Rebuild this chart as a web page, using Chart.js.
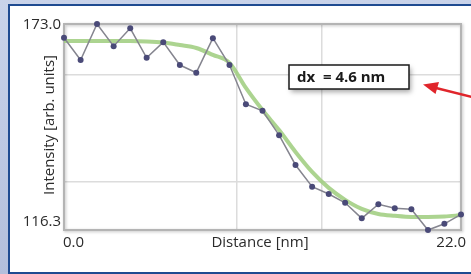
<!DOCTYPE html>
<html>
<head>
<meta charset="utf-8">
<script src="https://cdn.jsdelivr.net/npm/chart.js@4.4.1/dist/chart.umd.min.js"></script>
<style>
  html, body { margin: 0; padding: 0; }
  body {
    width: 471px; height: 274px; overflow: hidden; position: relative;
    background: linear-gradient(to bottom, #c9d3ea 0%, #b3bfdc 100%);
  }
  .panel {
    position: absolute; left: 8px; top: 4px; width: 480px; height: 266px;
    background: #fff;
    border-left: 2px solid #1f4b91; border-top: 2px solid #1f4b91; border-bottom: 2px solid #1f4b91;
  }
  canvas { position: absolute; left: 0; top: 0; }
</style>
</head>
<body>
<div class="panel"></div>
<canvas id="profile" width="471" height="274"></canvas>
<script>
// Line profile across an edge: measured intensity and fitted curve
const distance = [0.0, 0.92, 1.83, 2.75, 3.67, 4.58, 5.5, 6.42, 7.33, 8.25, 9.17, 10.08, 11.0,
                  11.92, 12.83, 13.75, 14.67, 15.58, 16.5, 17.42, 18.33, 19.25, 20.17, 21.08, 22.0];
const measured = [169.2, 163.1, 173.0, 166.9, 171.8, 163.7, 168.0, 161.7, 159.6, 169.1, 161.7, 150.9, 149.1,
                  142.4, 134.2, 128.2, 126.2, 123.8, 119.5, 123.4, 122.3, 122.0, 116.3, 118.0, 120.6];
const fitted = [168.3, 168.3, 168.3, 168.3, 168.3, 168.2, 167.9, 167.2, 166.4, 164.5, 162.3, 155.4, 149.3,
                143.8, 137.8, 132.3, 127.9, 124.6, 122.1, 120.7, 120.2, 119.9, 119.9, 120.0, 120.4];
const xGrid = [0, 9.57, 14.27, 22];
const yGrid = [116.3, 129.5, 159.0, 173.0];
const xTickLabels = ["0.0", "22.0"];
const yTickLabels = ["173.0", "116.3"];
const annotationText = "dx  = 4.6 nm";

const font = "'Open Sans', 'Noto Sans', sans-serif";
const textColor = "#2b2b2b";

const frameAndLabels = {
  id: "frameAndLabels",
  beforeDatasetsDraw(chart) {
    const { ctx, chartArea: a } = chart;
    ctx.save();
    ctx.shadowColor = "rgba(0,0,0,0.25)";
    ctx.shadowBlur = 3;
    ctx.shadowOffsetX = 1;
    ctx.shadowOffsetY = 1;
    ctx.strokeStyle = "#b4b4b4";
    ctx.lineWidth = 2;
    ctx.strokeRect(a.left, a.top, a.right - a.left, a.bottom - a.top);
    ctx.restore();
  },
  afterDraw(chart) {
    const { ctx, chartArea: a, scales } = chart;
    const x = scales.x, y = scales.y;
    ctx.save();
    ctx.fillStyle = textColor;
    ctx.font = "15px " + font;
    ctx.textBaseline = "middle";

    // y tick labels (top and bottom of the range)
    ctx.textAlign = "right";
    ctx.fillText(yTickLabels[0], a.left - 3, y.getPixelForValue(parseFloat(yTickLabels[0])) + 1);
    ctx.fillText(yTickLabels[1], a.left - 3, y.getPixelForValue(parseFloat(yTickLabels[1])) - 8);

    // x tick labels and title on one line
    const ly = a.bottom + 13;
    ctx.textAlign = "left";
    ctx.fillText(xTickLabels[0], x.getPixelForValue(parseFloat(xTickLabels[0])) - 1, ly);
    ctx.textAlign = "right";
    ctx.fillText(xTickLabels[1], x.getPixelForValue(parseFloat(xTickLabels[1])) + 5, ly);
    ctx.textAlign = "center";
    ctx.fillText("Distance [nm]", 260, ly);

    // y title
    ctx.save();
    ctx.translate(50, (a.top + a.bottom) / 2 - 2);
    ctx.rotate(-Math.PI / 2);
    ctx.fillText("Intensity [arb. units]", 0, 0);
    ctx.restore();

    // annotation box
    ctx.save();
    ctx.shadowColor = "rgba(0,0,0,0.35)";
    ctx.shadowBlur = 5;
    ctx.shadowOffsetX = 2;
    ctx.shadowOffsetY = 3;
    ctx.fillStyle = "#fff";
    ctx.fillRect(289, 65, 120, 24);
    ctx.restore();
    ctx.strokeStyle = "#1a1a1a";
    ctx.lineWidth = 1.5;
    ctx.strokeRect(289, 65, 120, 24);
    ctx.fillStyle = "#1a1a1a";
    ctx.font = "bold 15px " + font;
    ctx.textAlign = "left";
    ctx.fillText(annotationText, 297, 78);

    // red arrow
    ctx.strokeStyle = "#e0252b";
    ctx.fillStyle = "#e0252b";
    ctx.lineWidth = 2.5;
    ctx.beginPath();
    ctx.moveTo(472, 97);
    ctx.lineTo(436, 88);
    ctx.stroke();
    ctx.beginPath();
    ctx.moveTo(423, 84.5);
    ctx.lineTo(439, 82);
    ctx.lineTo(435.5, 94);
    ctx.closePath();
    ctx.fill();
    ctx.restore();
  }
};

new Chart(document.getElementById("profile"), {
  type: "line",
  data: {
    datasets: [
      {
        label: "fit",
        data: distance.map((d, i) => ({ x: d, y: fitted[i] })),
        borderColor: "rgba(158,204,124,0.85)",
        borderWidth: 4,
        pointRadius: 0,
        tension: 0.4,
        cubicInterpolationMode: "monotone",
        order: 2
      },
      {
        label: "measured",
        data: distance.map((d, i) => ({ x: d, y: measured[i] })),
        borderColor: "#85858f",
        borderWidth: 1.5,
        pointRadius: 3,
        pointBackgroundColor: "#4a4a78",
        pointBorderWidth: 0,
        tension: 0,
        order: 1
      }
    ]
  },
  options: {
    responsive: false,
    animation: false,
    clip: false,
    layout: { padding: { left: 64, right: 10, top: 24, bottom: 44 } },
    plugins: { legend: { display: false }, tooltip: { enabled: false } },
    scales: {
      x: {
        type: "linear", min: 0, max: 22,
        afterBuildTicks: s => { s.ticks = xGrid.map(v => ({ value: v })); },
        ticks: { display: false },
        grid: { color: "#dcdcdc", lineWidth: 1.5, drawTicks: false },
        border: { display: false }
      },
      y: {
        type: "linear", min: 116.3, max: 173.0,
        afterBuildTicks: s => { s.ticks = yGrid.map(v => ({ value: v })); },
        ticks: { display: false },
        grid: { color: "#dcdcdc", lineWidth: 1.5, drawTicks: false },
        border: { display: false }
      }
    }
  },
  plugins: [frameAndLabels]
});
</script>
</body>
</html>
